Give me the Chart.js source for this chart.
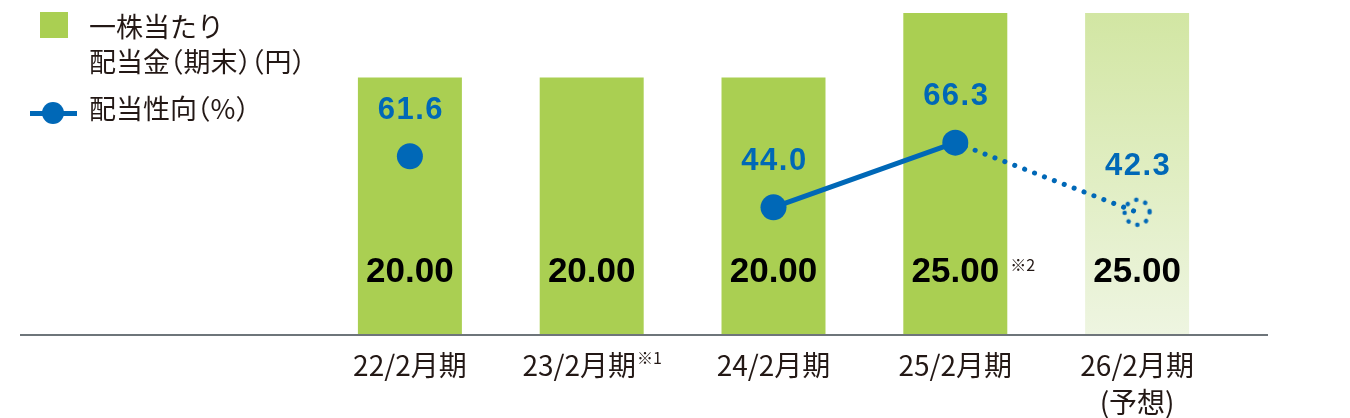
<!DOCTYPE html>
<html lang="ja">
<head>
<meta charset="utf-8">
<script src="https://cdn.jsdelivr.net/npm/chart.js@4"></script>
<style>
    html, body { margin: 0; padding: 0; background: #fff; }
    .wrap { position: relative; width: 1350px; height: 418px; }
    canvas { position: absolute; left: 0; top: 0; }
    .legend { position: absolute; font-family: "Noto Sans CJK JP", sans-serif; font-size: 27px; color: #231815; line-height: 1; white-space: nowrap; }
    .half { font-feature-settings: "halt"; }
    .swatch { position: absolute; left: 40px; top: 12px; width: 28px; height: 26px; background: #aacf52; }
    .lineKey { position: absolute; left: 30px; top: 111px; width: 47px; height: 5px; background: #0068b7; }
    .dotKey { position: absolute; left: 42px; top: 102px; width: 22px; height: 22px; border-radius: 50%; background: #0068b7; }
</style>
</head>
<body>
<div class="wrap">
    <canvas id="dividendChart" width="1350" height="418"></canvas>
    <div class="swatch"></div>
    <div class="legend" style="left:89px; top:12px;">一株当たり</div>
    <div class="legend" style="left:89px; top:47px;">配当金<span class="half">（</span>期末<span class="half">）（</span>円<span class="half">）</span></div>
    <div class="lineKey"></div>
    <div class="dotKey"></div>
    <div class="legend" style="left:89px; top:94px;">配当性向<span class="half">（</span>%<span class="half">）</span></div>
</div>
<script>
// Data
const periods = ['22/2月期', '23/2月期', '24/2月期', '25/2月期', ['26/2月期', '(予想)']];
const periodNotes = ['', '※1', '', '', ''];
const dividends = [20.00, 20.00, 20.00, 25.00, 25.00];
const dividendNotes = ['', '', '', '※2', ''];
const payoutRatios = [61.6, null, 44.0, 66.3, 42.3];
const forecastIndex = 4;

const GREEN = '#aacf52';
const BLUE = '#0068b7';
const TEXT = '#231815';
const TICK_FONT = '28px "Noto Sans CJK JP", sans-serif';
const NOTE_FONT = '16px "Noto Sans CJK JP", sans-serif';

// Dotted ring used for the forecast point
function makeDottedRing(radius) {
    const size = (radius + 5) * 2;
    const c = document.createElement('canvas');
    c.width = size;
    c.height = size;
    const g = c.getContext('2d');
    g.strokeStyle = BLUE;
    g.lineWidth = 4.5;
    g.lineCap = 'round';
    g.setLineDash([0.1, 9.5]);
    g.beginPath();
    g.arc(size / 2, size / 2, radius, 0, Math.PI * 2);
    g.stroke();
    return c;
}
const dottedRing = makeDottedRing(12.5);

// Baseline spanning the whole width
const baselinePlugin = {
    id: 'baseline',
    afterDatasetsDraw(chart, args, opts) {
        const { ctx, chartArea } = chart;
        ctx.save();
        ctx.strokeStyle = '#6e757a';
        ctx.lineWidth = 2;
        ctx.beginPath();
        ctx.moveTo(opts.left, chartArea.bottom);
        ctx.lineTo(chartArea.right + opts.extendRight, chartArea.bottom);
        ctx.stroke();
        ctx.restore();
    }
};

// Category labels with their notes, centred as one piece
const periodLabelPlugin = {
    id: 'periodLabels',
    afterDraw(chart) {
        const { ctx, chartArea } = chart;
        const xScale = chart.scales.x;
        ctx.save();
        ctx.textBaseline = 'middle';
        ctx.textAlign = 'left';
        ctx.fillStyle = TEXT;
        periods.forEach((p, i) => {
            const lines = Array.isArray(p) ? p : [p];
            const cx = xScale.getPixelForValue(i);
            lines.forEach((line, j) => {
                ctx.font = TICK_FONT;
                const w = ctx.measureText(line).width;
                let n = 0;
                const note = j === 0 ? periodNotes[i] : '';
                if (note) {
                    ctx.font = NOTE_FONT;
                    n = ctx.measureText(note).width;
                }
                const x0 = cx - (w + n) / 2;
                const y = chartArea.bottom + 30 + j * 37;
                ctx.font = TICK_FONT;
                ctx.fillText(line, x0, y);
                if (note) {
                    ctx.font = NOTE_FONT;
                    ctx.fillText(note, x0 + w + 1, y - 7);
                }
            });
        });
        ctx.restore();
    }
};

// Value labels
const labelPlugin = {
    id: 'valueLabels',
    afterDatasetsDraw(chart) {
        const { ctx, chartArea } = chart;
        const bars = chart.getDatasetMeta(0).data;
        const points = chart.getDatasetMeta(1).data;
        ctx.save();
        ctx.textAlign = 'center';
        ctx.textBaseline = 'middle';

        // Bar values
        ctx.fillStyle = '#000';
        ctx.font = 'bold 35px "Liberation Sans", Arial, sans-serif';
        const labelY = chartArea.bottom - 63;
        bars.forEach((bar, i) => {
            ctx.fillText(dividends[i].toFixed(2), bar.x, labelY);
            if (dividendNotes[i]) {
                ctx.save();
                ctx.textAlign = 'left';
                ctx.fillStyle = TEXT;
                ctx.font = NOTE_FONT;
                ctx.fillText(dividendNotes[i], bar.x + bar.width / 2 + 3, labelY - 7);
                ctx.restore();
            }
        });

        // Payout ratio values
        ctx.fillStyle = BLUE;
        ctx.font = 'bold 31px "Liberation Sans", Arial, sans-serif';
        ctx.letterSpacing = '1.5px';
        points.forEach((pt, i) => {
            if (payoutRatios[i] === null) return;
            ctx.fillText(payoutRatios[i].toFixed(1), pt.x + 1, pt.y - 46);
        });
        ctx.letterSpacing = '0px';
        ctx.restore();
    }
};

const ctx = document.getElementById('dividendChart');
new Chart(ctx, {
    data: {
        labels: periods,
        datasets: [{
            type: 'bar',
            label: '一株当たり配当金（期末）（円）',
            data: dividends,
            yAxisID: 'y',
            order: 2,
            categoryPercentage: 1,
            barPercentage: 0.572,
            backgroundColor: (c) => {
                if (c.dataIndex !== forecastIndex) return GREEN;
                const area = c.chart.chartArea;
                if (!area) return '#dfedc2';
                const g = c.chart.ctx.createLinearGradient(0, area.top, 0, area.bottom);
                g.addColorStop(0, '#d2e6a3');
                g.addColorStop(1, '#eef5e1');
                return g;
            }
        }, {
            type: 'line',
            label: '配当性向（%）',
            data: payoutRatios,
            yAxisID: 'y1',
            order: 1,
            borderColor: BLUE,
            backgroundColor: BLUE,
            borderWidth: 5,
            borderCapStyle: 'round',
            spanGaps: false,
            pointRadius: 13,
            pointBorderWidth: 0,
            pointStyle: (c) => c.dataIndex === forecastIndex ? dottedRing : 'circle',
            segment: {
                borderDash: (s) => s.p1DataIndex === forecastIndex ? [0.1, 10.5] : undefined
            }
        }]
    },
    options: {
        responsive: false,
        animation: false,
        layout: {
            padding: { left: 319, right: 122, top: 11, bottom: 0 }
        },
        plugins: {
            legend: { display: false },
            tooltip: { enabled: false },
            baseline: { left: 20, extendRight: 40 }
        },
        scales: {
            x: {
                grid: { display: false, drawTicks: false },
                border: { display: false },
                ticks: { display: false },
                afterFit: (scale) => { scale.height = 83; }
            },
            y: {
                display: false,
                min: 0,
                max: 25
            },
            y1: {
                display: false,
                min: 0,
                max: 111
            }
        }
    },
    plugins: [baselinePlugin, labelPlugin, periodLabelPlugin]
});
</script>
</body>
</html>
